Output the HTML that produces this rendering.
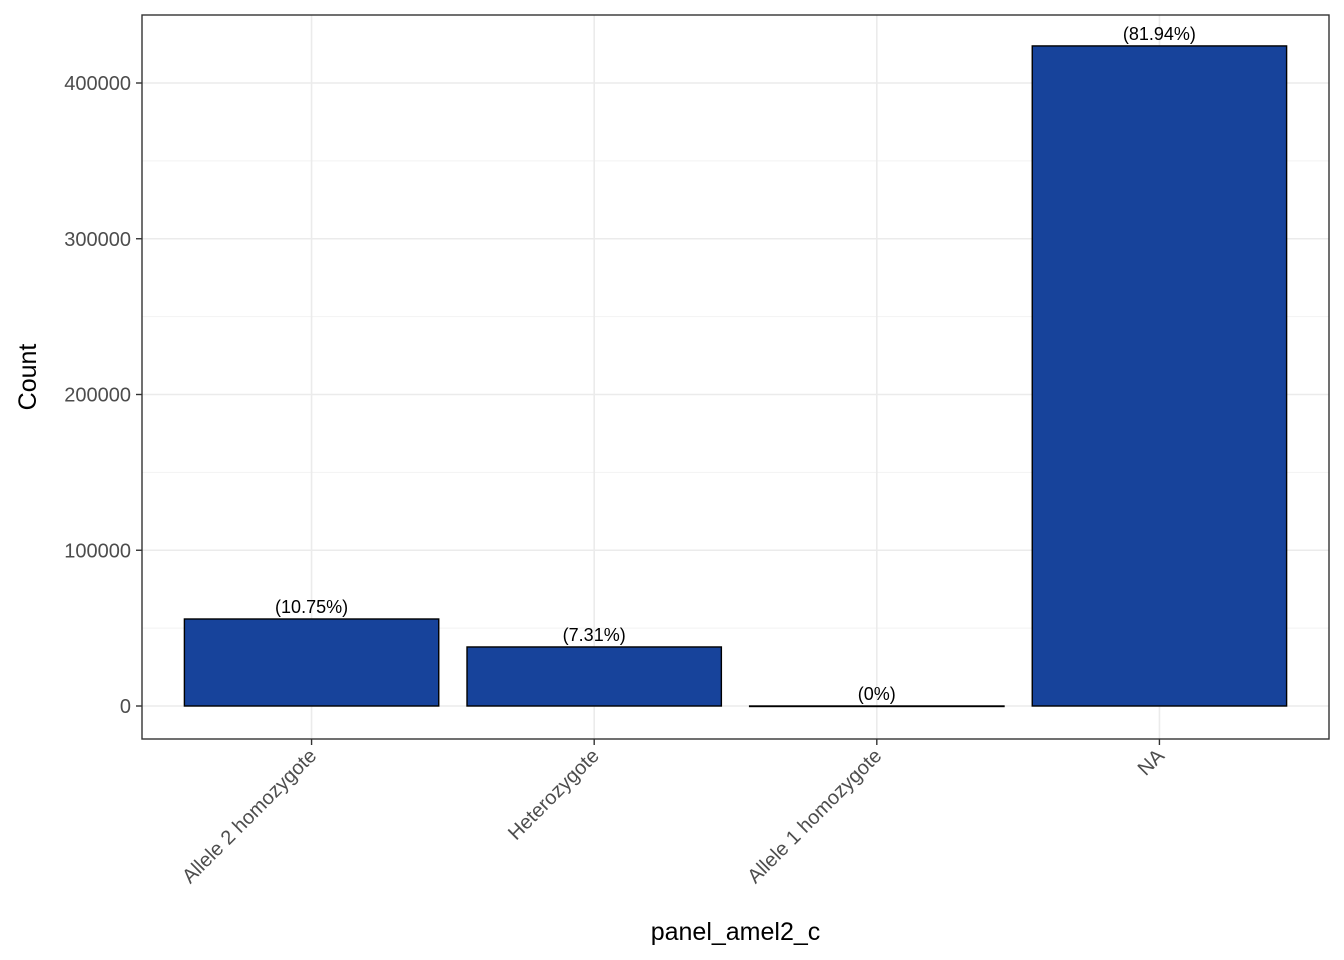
<!DOCTYPE html>
<html><head><meta charset="utf-8"><style>body{margin:0;background:#fff}svg{display:block;font-family:"Liberation Sans",Arial,sans-serif}</style></head>
<body>
<svg id="chart" width="1344" height="960" xmlns="http://www.w3.org/2000/svg"></svg>
<script>
const categories = ["Allele 2 homozygote","Heterozygote","Allele 1 homozygote","NA"];
const counts = [55860, 37900, 0, 423800];
const pctLabels = ["(10.75%)","(7.31%)","(0%)","(81.94%)"];
const yTicks = [0,100000,200000,300000,400000];
const yMinor = [50000,150000,250000,350000];

const svg = document.getElementById('chart');
const NS = 'http://www.w3.org/2000/svg';
const L=142,T=15,R=1329,B=739;
const y0=706, pxPer=623/400000;
const y = v => y0 - v*pxPer;
const unit=(R-L)/4.2;
const x = i => L + (i+0.6)*unit;
function mk(tag, attrs, parent){const e=document.createElementNS(NS,tag);for(const k in attrs)e.setAttribute(k,attrs[k]);(parent||svg).appendChild(e);return e;}

const bg = mk('rect',{x:L,y:T,width:R-L,height:B-T,fill:'#fff'});


yMinor.forEach(v=>{const g=mk('line',{x1:L,x2:R,y1:y(v),y2:y(v),stroke:'#f2f2f2','stroke-width':1});

});
yTicks.forEach(v=>{const g=mk('line',{x1:L,x2:R,y1:y(v),y2:y(v),stroke:'#ebebeb','stroke-width':1.6});

});
categories.forEach((c,i)=>{const g=mk('line',{x1:x(i),x2:x(i),y1:T,y2:B,stroke:'#ebebeb','stroke-width':1.6});

});
const bw=0.9*unit;
categories.forEach((c,i)=>{
  const r=mk('rect',{x:x(i)-bw/2,y:y(counts[i]),width:bw,height:Math.max(y0-y(counts[i]),0.5),fill:'#17439B',stroke:'#000','stroke-width':1.4});
  
  
  const t=mk('text',{x:x(i),y:y(counts[i])-6,'text-anchor':'middle','font-size':18,fill:'#000'});
  t.textContent=pctLabels[i];
  
  
  const tk=mk('line',{x1:x(i),x2:x(i),y1:B,y2:B+6,stroke:'#333','stroke-width':1.4});
  
  
  const lb=mk('text',{x:x(i)+6,y:B+18,'text-anchor':'end','font-size':20,fill:'#4d4d4d',transform:`rotate(-45 ${x(i)+6} ${B+18})`});
  lb.textContent=c;
  
  
});
yTicks.forEach(v=>{
  const tk=mk('line',{x1:L-6,x2:L,y1:y(v),y2:y(v),stroke:'#333','stroke-width':1.4});
  
  
  const t=mk('text',{x:L-11,y:y(v)+7,'text-anchor':'end','font-size':20,fill:'#4d4d4d'});
  t.textContent=String(v);
  
  
});
const border=mk('rect',{x:L,y:T,width:R-L,height:B-T,fill:'none',stroke:'#333','stroke-width':1.4});


const xt=mk('text',{x:(L+R)/2,y:940,'text-anchor':'middle','font-size':25,fill:'#000'});
xt.textContent='panel_amel2_c';


const yt=mk('text',{x:36,y:(T+B)/2,'text-anchor':'middle','font-size':25,fill:'#000',transform:`rotate(-90 36 ${(T+B)/2})`});
yt.textContent='Count';


</script>
</body></html>
